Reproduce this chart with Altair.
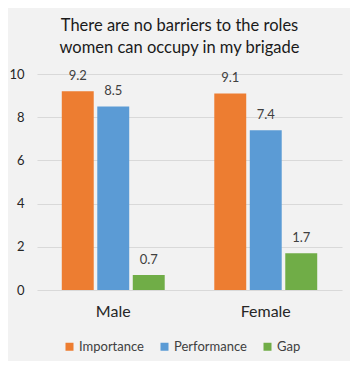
import altair as alt
import pandas as pd

groups = ["Male", "Female"]
series = ["Importance", "Performance", "Gap"]
importance = [9.2, 9.1]
performance = [8.5, 7.4]
gap = [0.7, 1.7]
colors = ["#ED7D31", "#5B9BD5", "#70AD47"]
title_lines = ["There are no barriers to the roles", "women can occupy in my brigade"]

rows = []
for i, g in enumerate(groups):
    for s, vals in zip(series, [importance, performance, gap]):
        rows.append({"group": g, "series": s, "value": vals[i], "label": f"{vals[i]:.1f}"})
df = pd.DataFrame(rows)

FONT = "Lato"

x = alt.X("group:N", sort=groups, title=None,
          scale=alt.Scale(paddingInner=0.325, paddingOuter=0.1625),
          axis=alt.Axis(labelAngle=0, labelFontSize=16, labelColor="#262626",
                        labelPadding=13, ticks=False, domain=False, labelFont=FONT))
xo = alt.XOffset("series:N", sort=series,
                 scale=alt.Scale(paddingInner=0.1, paddingOuter=0))
y = alt.Y("value:Q", title=None, scale=alt.Scale(domain=[0, 10]),
          axis=alt.Axis(values=[0, 2, 4, 6, 8, 10], labelFontSize=13, labelColor="#262626",
                        labelPadding=13, ticks=False, domain=False, gridColor="#d9d9d9",
                        labelFont=FONT))
color = alt.Color("series:N", sort=series,
                  scale=alt.Scale(domain=series, range=colors),
                  legend=alt.Legend(title=None, orient="none", direction="horizontal",
                                    legendX=26, legendY=266, symbolType="square",
                                    symbolSize=64, symbolStrokeWidth=0, labelFontSize=13,
                                    labelColor="#404040", columnPadding=14, labelOffset=3,
                                    labelFont=FONT))

bars = alt.Chart(df).mark_bar().encode(x=x, xOffset=xo, y=y, color=color)
labels = alt.Chart(df).mark_text(baseline="bottom", dy=-8, fontSize=13, color="#404040", font=FONT).encode(
    x=x, xOffset=xo, y=y, text="label:N")

chart = (bars + labels).properties(
    width=305, height=216,
    background="#f2f2f2",
    padding={"left": 29, "top": 66, "right": 8, "bottom": 71},
    autosize=alt.AutoSizeParams(type="none"),
    title=alt.TitleParams(title_lines, fontSize=16.5, font=FONT, fontWeight="normal",
                          color="#1a1a1a", anchor="middle", dx=-10, offset=12, lineHeight=22),
).configure_view(stroke=None)

chart.save("out.html", embed_options={"renderer": "svg", "actions": False})
